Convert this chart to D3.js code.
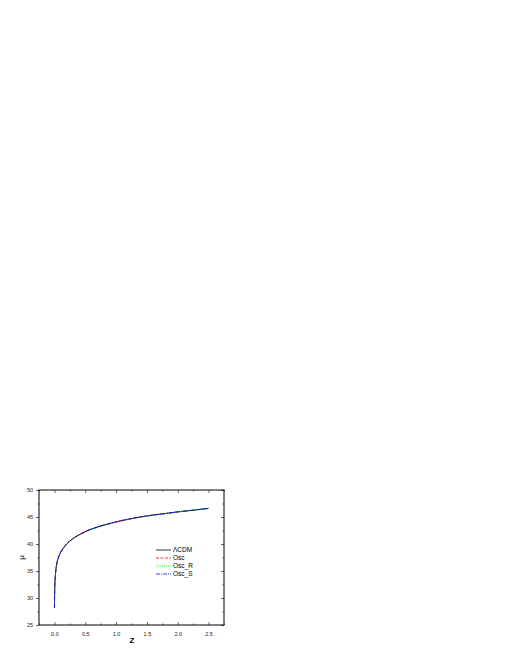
<!DOCTYPE html>
<html lang="en">
<head>
  <meta charset="UTF-8" />
  <title>Distance modulus</title>
  <script src="https://d3js.org/d3.v7.min.js"></script>
  <style>
    body { margin: 0; background: #fff; }
    text { font-family: "Liberation Sans", Arial, sans-serif; }
  </style>
</head>
<body>
  <svg width="510" height="660"></svg>
  <script>
    // redshift samples
    const zValues = [0.001, 0.002, 0.005, 0.01, 0.02, 0.04, 0.06, 0.1, 0.15, 0.2, 0.3, 0.4, 0.5, 0.7, 0.8, 1.0, 1.2, 1.5, 1.8, 2.0, 2.2, 2.5];
    // distance modulus
    const muLCDM = [28.2, 29.7, 31.7, 33.2, 34.8, 36.4, 37.3, 38.4, 39.3, 40.0, 41.0, 41.7, 42.3, 43.15, 43.5, 44.1, 44.6, 45.2, 45.65, 45.95, 46.2, 46.6];
    const muOsc  = [28.2, 29.7, 31.7, 33.2, 34.8, 36.5, 37.4, 38.5, 39.4, 40.1, 41.0, 41.7, 42.3, 43.15, 43.5, 44.1, 44.6, 45.2, 45.65, 45.95, 46.2, 46.6];
    const muOscR = [28.2, 29.7, 31.7, 33.2, 34.8, 36.4, 37.3, 38.4, 39.3, 40.0, 40.9, 41.6, 42.2, 43.05, 43.4, 44.0, 44.5, 45.15, 45.6, 45.95, 46.2, 46.6];
    const muOscS = [28.2, 29.7, 31.7, 33.2, 34.8, 36.4, 37.3, 38.4, 39.3, 40.0, 41.0, 41.7, 42.3, 43.15, 43.5, 44.1, 44.6, 45.2, 45.65, 45.95, 46.2, 46.6];

    const seriesNames = ["\u039BCDM", "Osc", "Osc_R", "Osc_S"];
    const seriesData = [muLCDM, muOsc, muOscR, muOscS];
    const colors = ["#000000", "#ff0000", "#00ff00", "#0000ff"];
    const dashes = [null, "3,1.5", "1,1", "4,1,1,1"];

    const xTicks = [0.0, 0.5, 1.0, 1.5, 2.0, 2.5];
    const yTicks = [25, 30, 35, 40, 45, 50];

    const svg = d3.select("svg");
    const pL = 39, pR = 224, pT = 490, pB = 625;

    const x = d3.scaleLinear().domain([-0.25, 2.75]).range([pL, pR]);
    const y = d3.scaleLinear().domain([25, 50]).range([pB, pT]);

    // minor ticks
    const xMinor = [-0.25, 0.25, 0.75, 1.25, 1.75, 2.25, 2.75];
    const yMinor = [27.5, 32.5, 37.5, 42.5, 47.5];

    const fmtX = d3.format(".1f");

    // bottom axis, ticks point inward
    const gB = svg.append("g").attr("transform", `translate(0,${pB})`);
    gB.call(d3.axisBottom(x).tickValues(xTicks).tickSizeInner(-3).tickSizeOuter(0).tickPadding(7).tickFormat(fmtX));
    gB.append("g").call(d3.axisBottom(x).tickValues(xMinor).tickSizeInner(-1.5).tickSizeOuter(0).tickFormat(""));

    const gT = svg.append("g").attr("transform", `translate(0,${pT})`);
    gT.call(d3.axisTop(x).tickValues(xTicks).tickSizeInner(-3).tickSizeOuter(0).tickFormat(""));
    gT.append("g").call(d3.axisTop(x).tickValues(xMinor).tickSizeInner(-1.5).tickSizeOuter(0).tickFormat(""));

    const gL = svg.append("g").attr("transform", `translate(${pL},0)`);
    gL.call(d3.axisLeft(y).tickValues(yTicks).tickSizeInner(3).tickSizeOuter(0).tickPadding(3));
    gL.append("g").call(d3.axisLeft(y).tickValues(yMinor).tickSizeInner(1.5).tickSizeOuter(0).tickFormat(""));

    const gR = svg.append("g").attr("transform", `translate(${pR},0)`);
    gR.call(d3.axisRight(y).tickValues(yTicks).tickSizeInner(-3).tickSizeOuter(0).tickFormat(""));
    gR.append("g").call(d3.axisRight(y).tickValues(yMinor).tickSizeInner(-1.5).tickSizeOuter(0).tickFormat(""));

    svg.selectAll(".domain").remove();
    svg.selectAll(".tick line").attr("stroke", "#000").attr("stroke-width", 0.6);
    svg.selectAll(".tick text").attr("font-size", 5.5).attr("fill", "#222")
      .style("font-family", "'Liberation Sans', Arial, sans-serif");

    // frame
    svg.append("rect")
      .attr("x", pL).attr("y", pT)
      .attr("width", pR - pL).attr("height", pB - pT)
      .attr("fill", "none").attr("stroke", "#000").attr("stroke-width", 1);

    // axis labels
    svg.append("text").attr("x", (pL + pR) / 2 + 0.5).attr("y", 643)
      .attr("text-anchor", "middle").attr("font-size", 8).attr("font-weight", "bold").text("Z");
    svg.append("text")
      .attr("transform", `translate(24,${(pT + pB) / 2}) rotate(-90)`)
      .attr("text-anchor", "middle").attr("font-size", 8).text("\u03BC");

    // curves
    const line = d3.line().x((d, i) => x(zValues[i])).y(d => y(d)).curve(d3.curveMonotoneX);
    seriesData.forEach((vals, k) => {
      svg.append("path").datum(vals)
        .attr("d", line)
        .attr("fill", "none")
        .attr("stroke", colors[k])
        .attr("stroke-width", 0.9)
        .attr("stroke-dasharray", dashes[k]);
    });

    // legend
    const legend = svg.append("g");
    seriesNames.forEach((name, k) => {
      const ly = 550 + k * 8;
      legend.append("line")
        .attr("x1", 156).attr("x2", 171).attr("y1", ly).attr("y2", ly)
        .attr("stroke", colors[k]).attr("stroke-width", 0.8)
        .attr("stroke-dasharray", dashes[k]);
      legend.append("text")
        .attr("x", 173).attr("y", ly + 2.3)
        .attr("font-size", 6.5).attr("fill", "#000").text(name);
    });
  </script>
</body>
</html>
